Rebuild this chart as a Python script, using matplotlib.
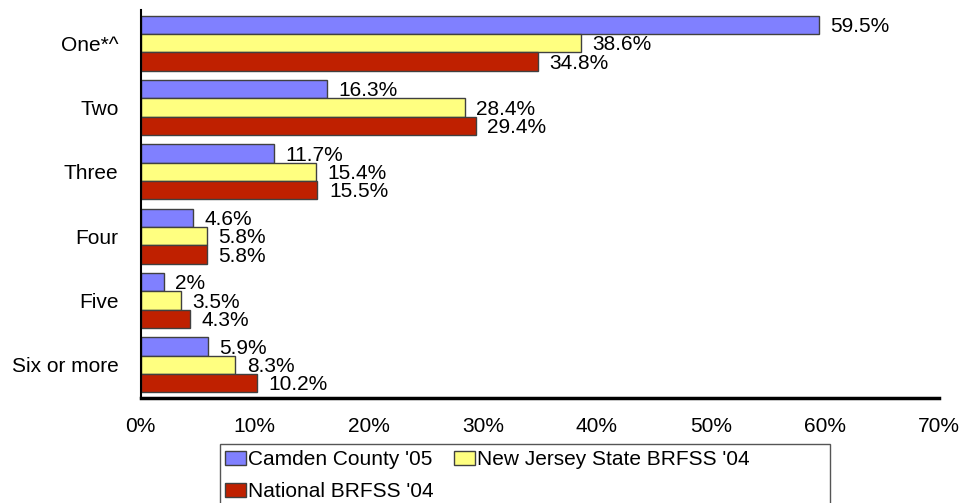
import numpy as np
import matplotlib.pyplot as plt
from matplotlib.patches import Rectangle

plt.rcParams['font.family'] = ['Liberation Sans', 'DejaVu Sans']

# Dữ liệu
categories = ['One*^', 'Two', 'Three', 'Four', 'Five', 'Six or more']
camden = [59.5, 16.3, 11.7, 4.6, 2.0, 5.9]
nj_state = [38.6, 28.4, 15.4, 5.8, 3.5, 8.3]
national = [34.8, 29.4, 15.5, 5.8, 4.3, 10.2]
camden_lbl = ['59.5%', '16.3%', '11.7%', '4.6%', '2%', '5.9%']
nj_lbl = ['38.6%', '28.4%', '15.4%', '5.8%', '3.5%', '8.3%']
nat_lbl = ['34.8%', '29.4%', '15.5%', '5.8%', '4.3%', '10.2%']
series_names = ["Camden County '05", "New Jersey State BRFSS '04", "National BRFSS '04"]
colors = ['#8080FF', '#FFFF80', '#BF2000']

fs = 15

fig = plt.figure(figsize=(9.64, 5.03), dpi=100)
ax = fig.add_axes([0.146, 0.2087, 0.828, 0.7714])

y = np.arange(len(categories))
h = 0.285
series = [camden, nj_state, national]
labels = [camden_lbl, nj_lbl, nat_lbl]
handles = []
for i, (vals, lbls) in enumerate(zip(series, labels)):
    pos = y + (i - 1) * h
    bars = ax.barh(pos, vals, height=h, color=colors[i], edgecolor='#404040',
                   linewidth=1.0, label=series_names[i])
    handles.append(bars)
    for bar, lbl in zip(bars, lbls):
        ax.text(bar.get_width() + 1.0, bar.get_y() + bar.get_height() / 2 + 0.025, lbl,
                ha='left', va='center', fontsize=fs)

ax.set_ylim(len(categories) - 0.483, -0.517)
ax.set_xlim(0, 70)
ax.set_yticks(y)
ax.set_yticklabels(categories, fontsize=fs)
ax.set_xticks(range(0, 71, 10))
ax.set_xticklabels([f'{v}%' for v in range(0, 71, 10)], fontsize=fs)
ax.tick_params(axis='y', length=0, pad=16)
ax.tick_params(axis='x', length=0, pad=14)
ax.spines['top'].set_visible(False)
ax.spines['right'].set_visible(False)
ax.spines['left'].set_linewidth(1.5)
ax.spines['bottom'].set_linewidth(2.5)

# Khung chú thích
fig.patches.append(Rectangle((220 / 964, -0.05), 610 / 964, 1.05 - 444 / 503,
                             transform=fig.transFigure, fill=False,
                             edgecolor='#555555', linewidth=1.0))

# Thứ tự: Camden, NJ ở hàng 1; National ở hàng 2
order = [0, 2, 1]
leg = fig.legend([handles[k] for k in order], [series_names[k] for k in order],
                 loc='upper left', bbox_to_anchor=(225 / 964, 1 - 450 / 503), ncol=2,
                 frameon=False, fontsize=fs, borderpad=0, borderaxespad=0,
                 handlelength=1.0, handleheight=0.65, handletextpad=0.1,
                 columnspacing=1.0, labelspacing=0.62)

plt.savefig('out.png', dpi=100)
